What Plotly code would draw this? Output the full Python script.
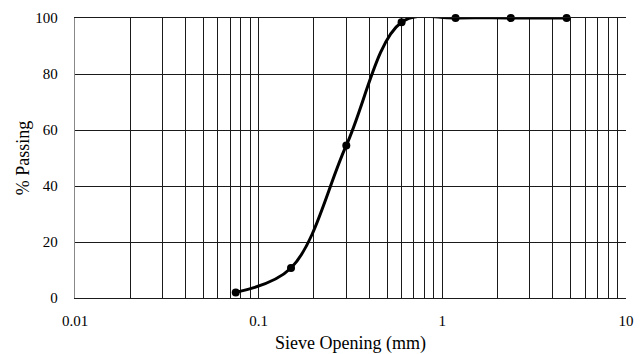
import plotly.graph_objects as go

sieve_mm = [0.075, 0.15, 0.3, 0.6, 1.18, 2.36, 4.75]
passing = [2, 10.7, 54.5, 98.5, 100, 100, 100]

major_ticks = [0.01, 0.1, 1, 10]
major_labels = ["0.01", "0.1", "1", "10"]
y_ticks = [0, 20, 40, 60, 80, 100]

grid_vals = []
for dec in [0.01, 0.1, 1]:
    for k in range(1, 10):
        grid_vals.append(round(dec * k, 4))
grid_vals.append(10)
grid_text = [major_labels[major_ticks.index(v)] if v in major_ticks else "" for v in grid_vals]

fig = go.Figure()
fig.add_trace(go.Scatter(
    x=sieve_mm, y=passing, mode="lines",
    line=dict(color="black", width=3, shape="spline", smoothing=1.0),
    showlegend=False, hoverinfo="skip",
))
fig.add_trace(go.Scatter(
    x=sieve_mm, y=passing, mode="markers",
    marker=dict(color="black", size=8),
    cliponaxis=False, showlegend=False,
))

font = dict(family="Liberation Serif, Times New Roman, serif", color="black", size=15)
fig.update_layout(
    width=644, height=354,
    margin=dict(l=75, r=18, t=18, b=56),
    paper_bgcolor="white", plot_bgcolor="white",
    font=font,
    xaxis=dict(
        type="log", range=[-2, 1], automargin=False,
        tickmode="array", tickvals=grid_vals, ticktext=grid_text,
        showgrid=True, gridcolor="#1a1a1a", gridwidth=1.4,
        ticks="", showline=True, linecolor="#1a1a1a", linewidth=1.4, mirror=True,
        ticklabelstandoff=9,
        title=dict(text="Sieve Opening (mm)", font=dict(size=18), standoff=10),
        zeroline=False,
    ),
    yaxis=dict(
        range=[0, 100], tickmode="array", tickvals=y_ticks, automargin=False,
        showgrid=True, gridcolor="#1a1a1a", gridwidth=1.4,
        ticks="", showline=True, linecolor="#888888", linewidth=1.4,
        ticklabelstandoff=13,
        title=dict(text="% Passing", font=dict(size=18), standoff=0),
        zeroline=False,
    ),
)
fig.write_html("out.html")
